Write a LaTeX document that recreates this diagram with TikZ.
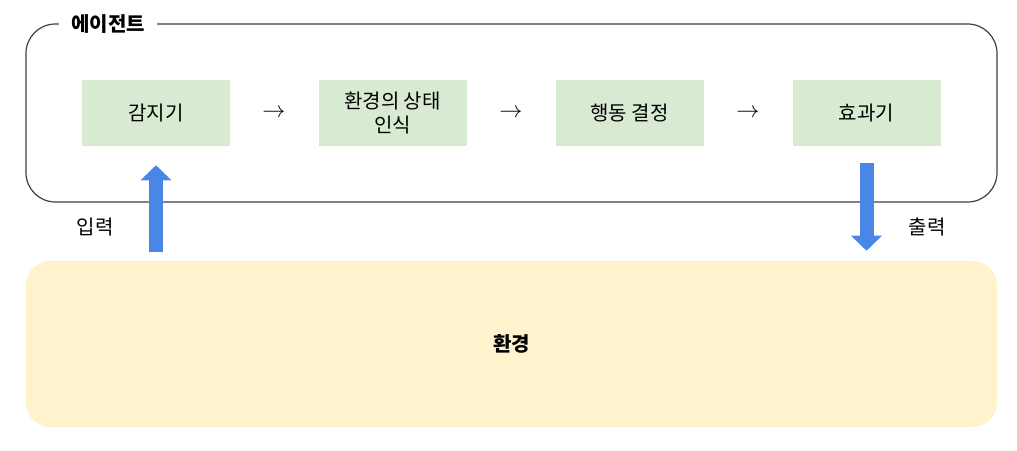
\documentclass[tikz,border=0pt]{standalone}
\usepackage{fontspec}
\setmainfont{Noto Sans CJK KR}
\usetikzlibrary{arrows.meta,calc}
\definecolor{verde}{HTML}{D9EAD3}
\definecolor{giallo}{HTML}{FFF2CC}
\definecolor{blu}{HTML}{4A86E8}
\tikzset{
    blocco/.style={fill=verde,minimum width=111pt,minimum height=49.5pt,align=center,font=\fontsize{15}{18}\selectfont},
    freccia/.style={draw=blu,line width=10.5pt,-{Triangle[width=22.5pt,length=11.25pt]}},
    testo/.style={font=\fontsize{15}{18}\selectfont}
}
\begin{document}
\begin{tikzpicture}[x=0.75pt,y=0.75pt]
        \useasboundingbox(0,0)rectangle(1017,450);
        %disegno agente
        \draw[black!75,line width=0.9pt,rounded corners=22pt](26,248)rectangle(997,426);
        \node[fill=white,inner xsep=9pt,font=\fontsize{15}{18}\selectfont\bfseries](agente)at(108,426){에이전트};
        %disegno ambiente
        \node[fill=giallo,rounded corners=18pt,minimum width=728.25pt,minimum height=124.5pt,font=\fontsize{15}{18}\selectfont\bfseries](amb)at(511.5,106){환경};
        %blocchi
        \node[blocco](sens)at(156,337){감지기};
        \node[blocco](stato)at(392.5,337){환경의 상태\\인식};
        \node[blocco](dec)at(629.5,337){행동 결정};
        \node[blocco](eff)at(866.5,337){효과기};
        \node[font=\fontsize{19}{20}\selectfont](f1)at(274,337){$\rightarrow$};
        \node[font=\fontsize{19}{20}\selectfont](f2)at(511,337){$\rightarrow$};
        \node[font=\fontsize{19}{20}\selectfont](f3)at(748,337){$\rightarrow$};
        %ingresso e uscita
        \draw[freccia]([yshift=6.75pt]amb.north -| sens)--([yshift=-14.25pt]sens.south);
        \draw[freccia]([yshift=-12.75pt]eff.south)--([yshift=7.5pt]amb.north -| eff);
        \node[testo](inp)at(95,223){입력};
        \node[testo](out)at(927,223){출력};
    \end{tikzpicture}
\end{document}
